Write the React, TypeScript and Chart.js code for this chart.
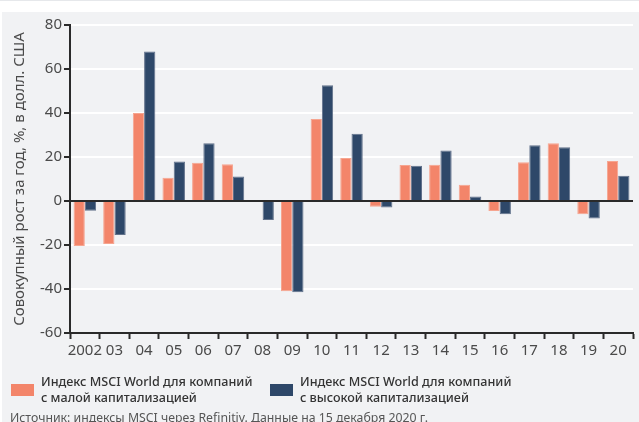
import React, { useEffect, useRef } from "react";
import { Chart, registerables } from "chart.js";

Chart.register(...registerables);

// Years on the category axis
const years: string[] = [
  "2002", "03", "04", "05", "06", "07", "08", "09", "10", "11",
  "12", "13", "14", "15", "16", "17", "18", "19", "20",
];

// Total annual return, %, USD
const smallCap: number[] = [
  -20.5, -19.5, 40, 10.6, 17.4, 16.7, 0, -41, 37.3, 19.5,
  -2.6, 16.4, 16.5, 7.4, -4.5, 17.6, 26.2, -6, 18.2,
];
const largeCap: number[] = [
  -4.4, -15.5, 67.9, 17.9, 26.2, 11.1, -8.6, -41.5, 52.6, 30.6,
  -2.9, 16, 23, 2.1, -6, 25.3, 24.4, -7.9, 11.5,
];

const yTicks: number[] = [-60, -40, -20, 0, 20, 40, 60, 80];

const smallLabel = ["Индекс MSCI World для компаний", "с малой капитализацией"];
const largeLabel = ["Индекс MSCI World для компаний", "с высокой капитализацией"];
const yTitle = "Совокупный рост за год, %, в долл. США";
const sourceText = "Источник: индексы MSCI через Refinitiv. Данные на 15 декабря 2020 г.";

const ORANGE = "#f3856a";
const NAVY = "#2e4869";
const PANEL = "#f1f2f4";
const AXIS = "#2a2a2a";
const TEXT = "#4a4a4a";
const FONT = "'Noto Sans', sans-serif";

// Dark zero line drawn over the bars
const zeroLine = {
  id: "zeroLine",
  afterDatasetsDraw(chart: any) {
    const y = chart.scales.y.getPixelForValue(0);
    const { left, right } = chart.chartArea;
    const ctx = chart.ctx;
    ctx.save();
    ctx.strokeStyle = AXIS;
    ctx.lineWidth = 2;
    ctx.beginPath();
    ctx.moveTo(left, y);
    ctx.lineTo(right, y);
    ctx.stroke();
    ctx.restore();
  },
};

function LegendItem({ color, lines, left }: { color: string; lines: string[]; left: number }) {
  return (
    <div style={{ position: "absolute", left, top: 374, display: "flex", alignItems: "center" }}>
      <div style={{ width: 23, height: 12, background: color, marginRight: 7 }} />
      <div style={{ fontFamily: FONT, fontSize: 12.6, fontWeight: 500, lineHeight: "16px", color: "#333" }}>
        {lines.map((l) => (
          <div key={l}>{l}</div>
        ))}
      </div>
    </div>
  );
}

export default function App() {
  const canvasRef = useRef<HTMLCanvasElement | null>(null);

  useEffect(() => {
    if (!canvasRef.current) return;
    const chart = new Chart(canvasRef.current, {
      type: "bar",
      data: {
        labels: years,
        datasets: [
          {
            label: smallLabel.join(" "),
            data: smallCap,
            backgroundColor: ORANGE,
            borderColor: "#f6a590",
            borderWidth: 1,
            categoryPercentage: 0.76,
            barPercentage: 1,
          },
          {
            label: largeLabel.join(" "),
            data: largeCap,
            backgroundColor: NAVY,
            borderColor: "#62728b",
            borderWidth: 1,
            categoryPercentage: 0.76,
            barPercentage: 1,
          },
        ],
      },
      plugins: [zeroLine],
      options: {
        responsive: false,
        animation: false,
        layout: { padding: { left: 2, right: 6, top: 25, bottom: 59 } },
        plugins: {
          legend: { display: false },
          tooltip: { enabled: false },
        },
        scales: {
          x: {
            grid: {
              offset: true,
              drawOnChartArea: false,
              drawTicks: true,
              tickLength: 6,
              tickColor: AXIS,
              tickWidth: 2,
            },
            border: { color: AXIS, width: 2 },
            ticks: {
              color: TEXT,
              font: { family: FONT, size: 15 },
              padding: 3,
              maxRotation: 0,
              autoSkip: false,
            },
            afterFit: (s: any) => {
              s.height = 30;
            },
          },
          y: {
            min: -60,
            max: 80,
            afterBuildTicks: (s: any) => {
              s.ticks = yTicks.map((v) => ({ value: v }));
            },
            grid: {
              color: "#ffffff",
              lineWidth: 2,
              tickLength: 6,
              tickColor: AXIS,
              tickWidth: 2,
            },
            border: { color: AXIS, width: 2 },
            ticks: {
              color: TEXT,
              font: { family: FONT, size: 15 },
              padding: 2,
            },
            title: {
              display: true,
              text: yTitle,
              color: TEXT,
              font: { family: FONT, size: 15 },
              padding: { top: 9, bottom: 0 },
            },
            afterFit: (s: any) => {
              s.width = 68;
            },
          },
        },
      },
    });
    return () => chart.destroy();
  }, []);

  return (
    <div
      style={{
        position: "fixed",
        left: 0,
        top: 0,
        width: 639,
        height: 422,
        background: "#ffffff",
        overflow: "hidden",
      }}
    >
      <div style={{ position: "absolute", left: 0, top: 0, width: 639, height: 1, background: "#e6e8eb" }} />
      <div style={{ position: "absolute", left: 2, top: 12, width: 637, height: 410, background: PANEL }} />
      <canvas
        ref={canvasRef}
        width={639}
        height={422}
        style={{ position: "absolute", left: 0, top: 0, width: 639, height: 422 }}
      />
      <LegendItem color={ORANGE} lines={smallLabel} left={11} />
      <LegendItem color={NAVY} lines={largeLabel} left={270} />
      <div
        style={{
          position: "absolute",
          left: 10,
          top: 409,
          fontFamily: FONT,
          fontSize: 12.3,
          lineHeight: "18px",
          color: "#555",
          whiteSpace: "nowrap",
        }}
      >
        {sourceText}
      </div>
    </div>
  );
}
